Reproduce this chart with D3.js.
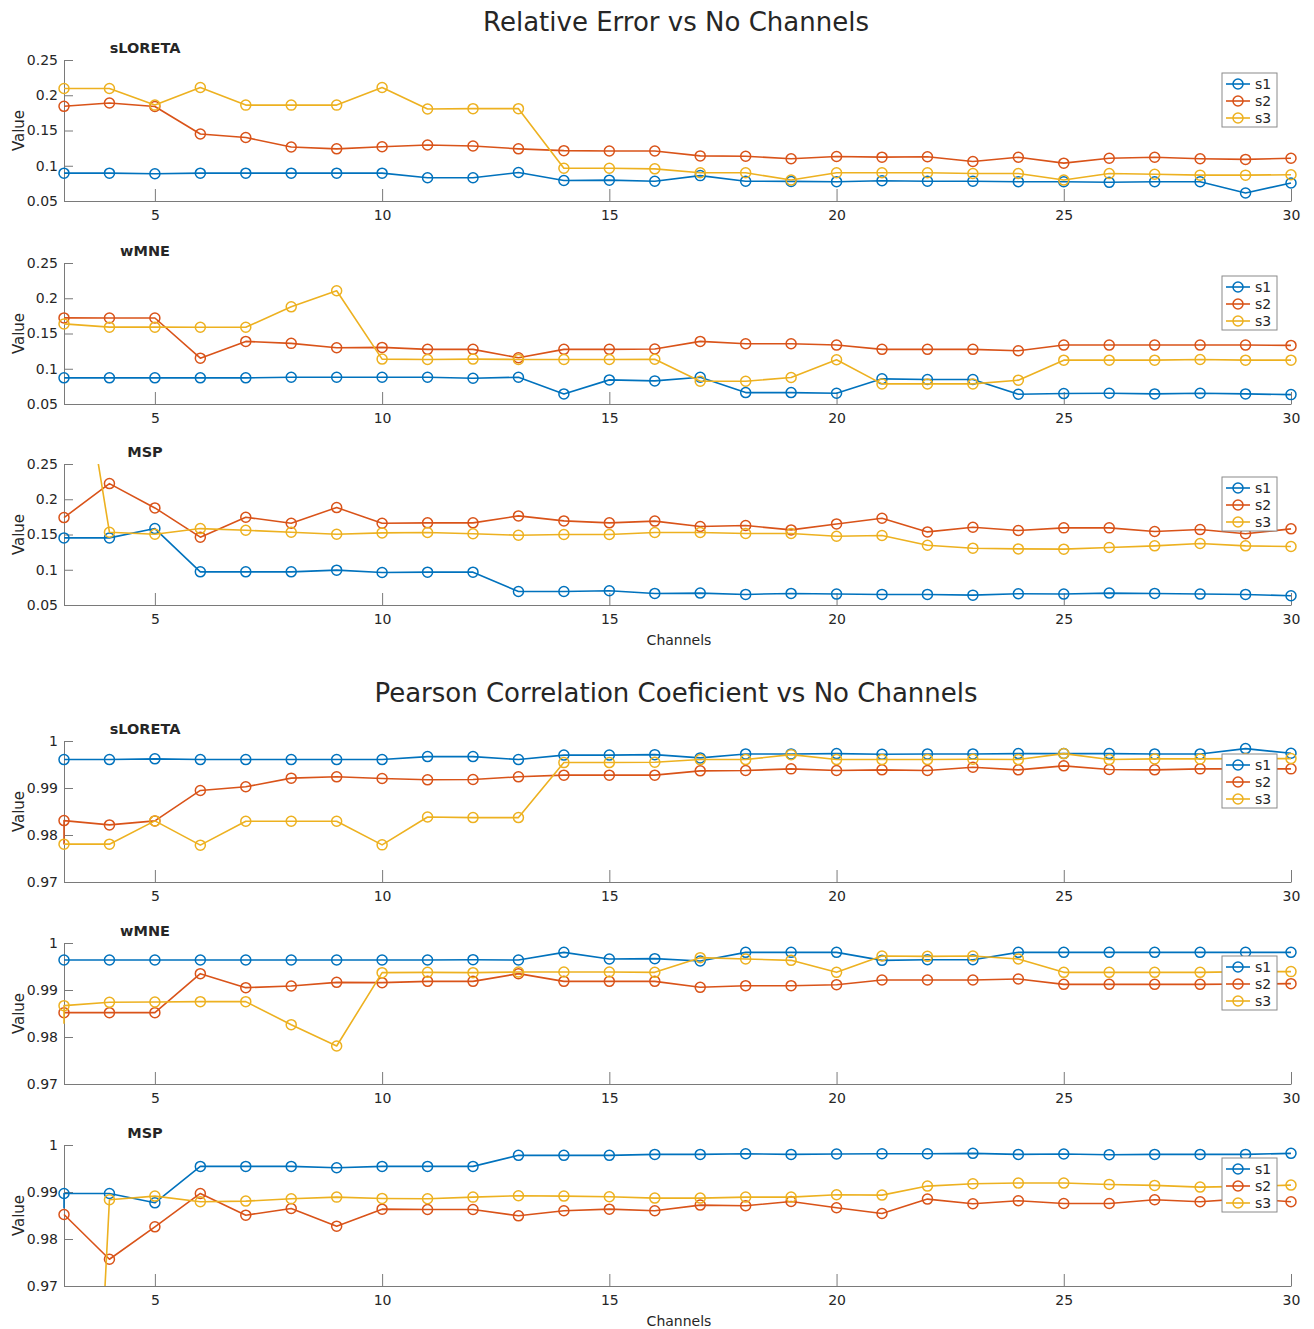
<!DOCTYPE html>
<html>
<head>
<meta charset="utf-8">
<script src="https://cdn.jsdelivr.net/npm/d3@7"></script>
<style>
  body { margin: 0; background: #ffffff; }
  text { font-family: "DejaVu Sans", sans-serif; fill: #262626; }
</style>
</head>
<body>
<svg id="chart" width="1314" height="1329"></svg>
<script>
// ---- data -------------------------------------------------------------
const channels = [3, 4, 5, 6, 7, 8, 9, 10, 11, 12, 13, 14, 15, 16, 17, 18, 19, 20, 21, 22, 23, 24, 25, 26, 27, 28, 29, 30];
const seriesNames = ["s1", "s2", "s3"];
const methodNames = ["sLORETA", "wMNE", "MSP"];
const figureTitles = ["Relative Error vs No Channels", "Pearson Correlation Coeficient vs No Channels"];

const xTicks = [5, 10, 15, 20, 25, 30];
const reTicks = [0.05, 0.1, 0.15, 0.2, 0.25];
const reTickLabels = ["0.05", "0.1", "0.15", "0.2", "0.25"];
const pccTicks = [0.97, 0.98, 0.99, 1];
const pccTickLabels = ["0.97", "0.98", "0.99", "1"];

// Relative error
const reSloretaS1 = [0.0895, 0.0895, 0.0886, 0.0895, 0.0895, 0.0895, 0.0895, 0.0895, 0.083, 0.083, 0.0904, 0.0791, 0.0796, 0.078, 0.086, 0.078, 0.0778, 0.0774, 0.0788, 0.078, 0.078, 0.0774, 0.0774, 0.0765, 0.0774, 0.0774, 0.0614, 0.0755];
const reSloretaS2 = [0.1843, 0.189, 0.184, 0.145, 0.140, 0.1266, 0.124, 0.127, 0.1294, 0.128, 0.124, 0.1214, 0.121, 0.121, 0.114, 0.1135, 0.110, 0.1132, 0.1122, 0.1127, 0.106, 0.112, 0.1037, 0.1107, 0.112, 0.110, 0.109, 0.1107];
const reSloretaS3 = [0.2096, 0.2096, 0.186, 0.211, 0.186, 0.186, 0.186, 0.211, 0.1805, 0.181, 0.181, 0.0965, 0.0965, 0.0956, 0.09, 0.09, 0.0797, 0.09, 0.09, 0.09, 0.089, 0.089, 0.0797, 0.089, 0.088, 0.0867, 0.0867, 0.0872];

const reWmneS1 = [0.0871, 0.0871, 0.0871, 0.0871, 0.0871, 0.088, 0.088, 0.088, 0.088, 0.0866, 0.088, 0.0643, 0.0842, 0.0828, 0.088, 0.0662, 0.0662, 0.0652, 0.0857, 0.0847, 0.0847, 0.0638, 0.0648, 0.0652, 0.0643, 0.0652, 0.0643, 0.0633];
const reWmneS2 = [0.1721, 0.172, 0.172, 0.115, 0.1388, 0.136, 0.1298, 0.1303, 0.1275, 0.1275, 0.1156, 0.1275, 0.1275, 0.128, 0.1388, 0.1355, 0.1355, 0.1336, 0.1275, 0.1275, 0.1275, 0.1256, 0.1336, 0.1336, 0.1336, 0.1336, 0.1336, 0.1331];
const reWmneS3 = [0.1636, 0.159, 0.159, 0.1588, 0.1588, 0.1878, 0.2106, 0.1137, 0.1132, 0.1137, 0.1132, 0.1132, 0.1132, 0.1135, 0.0823, 0.0823, 0.0876, 0.1127, 0.0785, 0.0785, 0.0785, 0.0838, 0.1122, 0.1122, 0.1122, 0.1132, 0.1122, 0.1122];

const reMspS1 = [0.1452, 0.1452, 0.1584, 0.097, 0.097, 0.097, 0.0994, 0.0961, 0.0966, 0.0966, 0.0692, 0.0692, 0.0702, 0.0664, 0.0669, 0.065, 0.0664, 0.0655, 0.065, 0.065, 0.064, 0.066, 0.0655, 0.0669, 0.0664, 0.0655, 0.065, 0.0631];
const reMspS2 = [0.174, 0.2222, 0.1877, 0.1462, 0.1745, 0.166, 0.1882, 0.166, 0.1665, 0.1665, 0.1764, 0.1693, 0.1665, 0.169, 0.1613, 0.1627, 0.1565, 0.165, 0.173, 0.1537, 0.1603, 0.1556, 0.1594, 0.1594, 0.1542, 0.157, 0.151, 0.158];
const reMspS3 = [0.55, 0.1532, 0.1504, 0.1584, 0.156, 0.1532, 0.1504, 0.1523, 0.1528, 0.151, 0.149, 0.15, 0.15, 0.1528, 0.1528, 0.1514, 0.1514, 0.1476, 0.1485, 0.1348, 0.1306, 0.1296, 0.1292, 0.1315, 0.1339, 0.1372, 0.1339, 0.133];

// Pearson correlation coefficient
const pccSloretaS1 = [0.99605, 0.99605, 0.9962, 0.99605, 0.99605, 0.99605, 0.99605, 0.99605, 0.99668, 0.99668, 0.99605, 0.9970, 0.9970, 0.9971, 0.9964, 0.99725, 0.99725, 0.99732, 0.99718, 0.99725, 0.99725, 0.99732, 0.99732, 0.99732, 0.99725, 0.99725, 0.99838, 0.99739];
const pccSloretaS2 = [0.98306, 0.98215, 0.983, 0.98948, 0.99026, 0.9921, 0.99238, 0.99203, 0.99174, 0.9918, 0.99238, 0.99273, 0.99273, 0.99273, 0.99365, 0.99372, 0.99407, 0.99372, 0.99386, 0.99372, 0.99442, 0.99386, 0.99471, 0.99393, 0.99386, 0.99407, 0.99407, 0.99407];
const pccSloretaS3 = [0.97805, 0.97805, 0.983, 0.97784, 0.98292, 0.98292, 0.98292, 0.9779, 0.98384, 0.9837, 0.9837, 0.99541, 0.99541, 0.99548, 0.99605, 0.99605, 0.9971, 0.99605, 0.99605, 0.99605, 0.99612, 0.99605, 0.99732, 0.99605, 0.99619, 0.99619, 0.99626, 0.99626];

const pccWmneS1 = [0.99638, 0.99638, 0.99638, 0.99638, 0.99638, 0.99638, 0.99638, 0.99638, 0.99638, 0.99645, 0.99638, 0.99801, 0.9966, 0.99667, 0.99617, 0.99801, 0.99801, 0.99801, 0.99631, 0.99645, 0.99645, 0.99801, 0.99801, 0.99801, 0.99801, 0.99801, 0.99801, 0.99801];
const pccWmneS2 = [0.98518, 0.98518, 0.98518, 0.99348, 0.9905, 0.99085, 0.99163, 0.99156, 0.99184, 0.99184, 0.99348, 0.99184, 0.99184, 0.99184, 0.99057, 0.99092, 0.99092, 0.99113, 0.99213, 0.99213, 0.99213, 0.99234, 0.9912, 0.9912, 0.9912, 0.9912, 0.99127, 0.99135];
const pccWmneS3 = [0.98667, 0.98738, 0.98745, 0.98752, 0.98752, 0.98262, 0.97809, 0.99369, 0.99376, 0.99369, 0.99383, 0.99383, 0.99383, 0.99376, 0.99688, 0.9966, 0.99631, 0.99376, 0.99723, 0.99716, 0.99723, 0.9966, 0.99376, 0.99376, 0.99376, 0.99376, 0.9939, 0.99391];

const pccMspS1 = [0.98969, 0.98969, 0.9877, 0.99545, 0.99545, 0.99545, 0.99517, 0.99545, 0.99545, 0.99545, 0.9978, 0.9978, 0.9978, 0.998, 0.998, 0.99815, 0.998, 0.99808, 0.99815, 0.99815, 0.99822, 0.998, 0.99808, 0.99794, 0.998, 0.998, 0.998, 0.99822];
const pccMspS2 = [0.98522, 0.97569, 0.98259, 0.98969, 0.98507, 0.98649, 0.98273, 0.98635, 0.98628, 0.98628, 0.98493, 0.986, 0.98635, 0.986, 0.98721, 0.98707, 0.98799, 0.98664, 0.98543, 0.98849, 0.9875, 0.98813, 0.98756, 0.98756, 0.98834, 0.98792, 0.9886, 0.98792];
const pccMspS3 = [0.80, 0.98834, 0.98913, 0.98792, 0.98806, 0.98856, 0.98891, 0.98863, 0.98856, 0.98891, 0.9892, 0.98913, 0.98898, 0.9887, 0.9887, 0.98891, 0.98891, 0.98941, 0.98934, 0.99126, 0.99176, 0.9919, 0.9919, 0.99161, 0.9914, 0.99104, 0.9912, 0.99147];

// extra leading sample at the first channel (drawn as a line only)
const pccSloretaS2Lead = 0.978;
const pccWmneS3Lead = 0.9828;
const pccMspS1Lead = 0.9865;

// ---- layout & style -----------------------------------------------------
const colors = ["#0072BD", "#D95319", "#EDB120"];
const plotLeft = 64, plotRight = 1291, plotHeight = 141;
const panelTops = [60, 263, 464, 741, 943, 1145];
const axisColor = "#7a7a7a";

const panels = [
  { name: methodNames[0], ticks: reTicks, labels: reTickLabels, series: [reSloretaS1, reSloretaS2, reSloretaS3], leads: [null, null, null], xlabel: false },
  { name: methodNames[1], ticks: reTicks, labels: reTickLabels, series: [reWmneS1, reWmneS2, reWmneS3], leads: [null, null, null], xlabel: false },
  { name: methodNames[2], ticks: reTicks, labels: reTickLabels, series: [reMspS1, reMspS2, reMspS3], leads: [null, null, null], xlabel: true },
  { name: methodNames[0], ticks: pccTicks, labels: pccTickLabels, series: [pccSloretaS1, pccSloretaS2, pccSloretaS3], leads: [null, pccSloretaS2Lead, null], xlabel: false },
  { name: methodNames[1], ticks: pccTicks, labels: pccTickLabels, series: [pccWmneS1, pccWmneS2, pccWmneS3], leads: [null, null, pccWmneS3Lead], xlabel: false },
  { name: methodNames[2], ticks: pccTicks, labels: pccTickLabels, series: [pccMspS1, pccMspS2, pccMspS3], leads: [pccMspS1Lead, null, null], xlabel: true }
];

const svg = d3.select("#chart");
svg.append("rect").attr("width", 1314).attr("height", 1329).attr("fill", "#fff");

// figure titles
svg.append("text").attr("x", 676).attr("y", 31).attr("text-anchor", "middle")
  .attr("font-size", 26).text(figureTitles[0]);
svg.append("text").attr("x", 676).attr("y", 702).attr("text-anchor", "middle")
  .attr("font-size", 26).text(figureTitles[1]);

const x = d3.scaleLinear().domain([channels[0], channels[channels.length - 1]]).range([plotLeft, plotRight]);

panels.forEach((p, pi) => {
  const top = panelTops[pi];
  const g = svg.append("g").attr("transform", `translate(0,${top})`);
  const dom = [p.ticks[0], p.ticks[p.ticks.length - 1]];
  const y = d3.scaleLinear().domain(dom).range([plotHeight, 0]);

  // clip region for the lines
  const clipId = "clip" + pi;
  g.append("clipPath").attr("id", clipId)
    .append("rect").attr("x", plotLeft - 2).attr("y", 0)
    .attr("width", plotRight - plotLeft + 4).attr("height", plotHeight);

  // axes (ticks pointing inward)
  const yAxis = d3.axisLeft(y).tickValues(p.ticks)
    .tickFormat((d, i) => p.labels[i]).tickSizeInner(-9).tickSizeOuter(0).tickPadding(6);
  const xAxis = d3.axisBottom(x).tickValues(xTicks)
    .tickFormat(d3.format("d")).tickSizeInner(-12).tickSizeOuter(0).tickPadding(9);

  const ya = g.append("g").attr("transform", `translate(${plotLeft},0)`).call(yAxis);
  const xa = g.append("g").attr("transform", `translate(0,${plotHeight})`).call(xAxis);
  [ya, xa].forEach(a => {
    a.selectAll("path.domain").attr("stroke", axisColor).attr("stroke-width", 1);
    a.selectAll(".tick line").attr("stroke", axisColor).attr("stroke-width", 1);
    a.selectAll(".tick text").attr("font-family", '"DejaVu Sans", sans-serif')
      .attr("font-size", 14).attr("fill", "#262626");
  });

  // y label
  g.append("text").attr("transform", `translate(24,${plotHeight / 2}) rotate(-90)`)
    .attr("text-anchor", "middle").attr("font-size", 15).text("Value");

  // method label
  g.append("text").attr("x", 145).attr("y", -7).attr("text-anchor", "middle")
    .attr("font-size", 14.5).attr("font-weight", "bold").text(p.name);

  if (p.xlabel) {
    g.append("text").attr("x", 679).attr("y", plotHeight + 40).attr("text-anchor", "middle")
      .attr("font-size", 14).text("Channels");
  }

  // series
  const line = d3.line().x(d => x(d.c)).y(d => y(d.v));
  p.series.forEach((vals, si) => {
    const pts = channels.map((c, i) => ({ c, v: vals[i] }));
    const linePts = p.leads[si] != null ? [{ c: channels[0], v: p.leads[si] }].concat(pts) : pts;
    g.append("path").datum(linePts)
      .attr("clip-path", `url(#${clipId})`)
      .attr("fill", "none").attr("stroke", colors[si]).attr("stroke-width", 1.6)
      .attr("stroke-linejoin", "round").attr("d", line);
    g.append("g").selectAll("circle")
      .data(pts.filter(d => d.v >= dom[0] && d.v <= dom[1]))
      .join("circle")
      .attr("cx", d => x(d.c)).attr("cy", d => y(d.v)).attr("r", 5)
      .attr("fill", "none").attr("stroke", colors[si]).attr("stroke-width", 1.5);
  });

  // legend
  const lg = g.append("g").attr("transform", `translate(1222,13)`);
  lg.append("rect").attr("width", 55).attr("height", 54)
    .attr("fill", "#fff").attr("stroke", "#8a8a8a").attr("stroke-width", 1);
  seriesNames.forEach((s, si) => {
    const ry = 11 + si * 17;
    lg.append("line").attr("x1", 4).attr("x2", 28).attr("y1", ry).attr("y2", ry)
      .attr("stroke", colors[si]).attr("stroke-width", 1.6);
    lg.append("circle").attr("cx", 16).attr("cy", ry).attr("r", 5)
      .attr("fill", "none").attr("stroke", colors[si]).attr("stroke-width", 1.5);
    lg.append("text").attr("x", 33).attr("y", ry + 5).attr("font-size", 14).text(s);
  });
});
</script>
</body>
</html>
